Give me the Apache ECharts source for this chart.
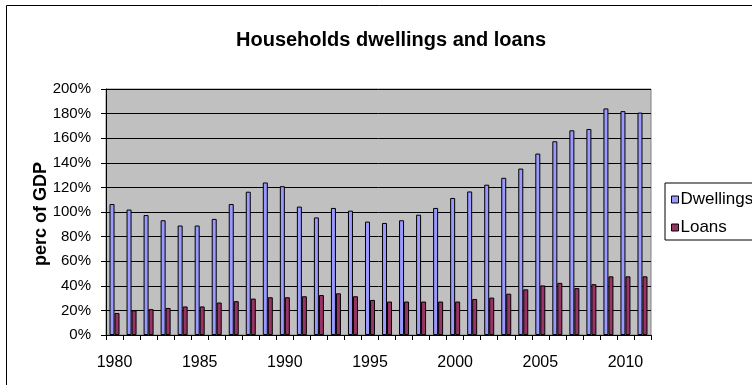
<!DOCTYPE html>
<html>
<head>
<meta charset="utf-8">
<script src="https://cdn.jsdelivr.net/npm/echarts@6/dist/echarts.min.js"></script>
<style>
html,body{margin:0;padding:0;background:#fff;}
#c{width:752px;height:385px;}
</style>
</head>
<body>
<div id="c"></div>
<script>
const years = ['1980','1981','1982','1983','1984','1985','1986','1987','1988','1989','1990','1991','1992','1993','1994','1995','1996','1997','1998','1999','2000','2001','2002','2003','2004','2005','2006','2007','2008','2009','2010','2011'];
const dwellings = [106.5,102,97.5,93.3,89,89,94.4,106.5,116.5,124,121,104.4,95.6,103.3,101.1,92.2,91.1,93.3,97.8,103.3,111.4,116.7,122.2,127.8,135.3,147.5,157.5,166.4,167.5,184.2,182,180.8];
const loans = [17.9,20,21,22,23.2,23.2,26.4,27.5,29.6,30.7,30.7,31.5,32.5,33.9,31.5,28.5,27.2,27.2,27.2,27.2,27.2,29.3,30.4,33.6,37.1,40.3,42.4,38.1,41.3,47.7,47.7,47.7];
const yTicks = [0,20,40,60,80,100,120,140,160,180,200];
const yAxisTitle = 'perc of GDP';

const FONT = 'Liberation Sans, Arial, sans-serif';
const chart = echarts.init(document.getElementById('c'), null, {renderer:'canvas'});
chart.setOption({
  animation:false,
  backgroundColor:'#ffffff',
  textStyle:{fontFamily:FONT},
  title:{
    text:'Households dwellings and loans',
    left:231, top:25,
    textStyle:{fontFamily:FONT, fontSize:20, fontWeight:'bold', color:'#000'}
  },
  graphic:[{
    type:'rect', shape:{x:6.5,y:5.5,width:800,height:400},
    style:{fill:'none', stroke:'#000', lineWidth:1}, silent:true, z:-1
  },{
    type:'text', x:41, y:214, rotation:Math.PI/2, silent:true,
    style:{text:yAxisTitle, fill:'#000', font:'bold 18px Liberation Sans, Arial, sans-serif',
      textAlign:'center', textVerticalAlign:'middle'}
  }],
  legend:{
    orient:'vertical', left:665, top:183,
    padding:[8,20,4,6],
    borderColor:'#000', borderWidth:1, backgroundColor:'#fff',
    itemWidth:7, itemHeight:7, itemGap:11, icon:'rect',
    textStyle:{fontFamily:FONT, fontSize:17, color:'#000', padding:[0,0,0,-3]},
    itemStyle:{borderColor:'#000', borderWidth:1},
    data:['Dwellings','Loans']
  },
  grid:{
    left:106, right:101, top:89, bottom:50,
    show:true, backgroundColor:'#C0C0C0', borderColor:'#808080', borderWidth:1
  },
  xAxis:{
    type:'category', data:years,
    axisLine:{lineStyle:{color:'#000'}},
    axisTick:{show:true, interval:0, length:5, lineStyle:{color:'#000'}},
    axisLabel:{interval:4, fontFamily:FONT, fontSize:16, color:'#000', margin:20}
  },
  yAxis:{
    type:'value', min:0, max:200, interval:20,
    axisLine:{show:true, lineStyle:{color:'#000'}},
    axisTick:{show:true, length:5, lineStyle:{color:'#000'}},
    axisLabel:{fontFamily:FONT, fontSize:15, color:'#000', margin:15,
      formatter:function(v){return yTicks.indexOf(v)>=0 ? v+'%' : '';}},
    splitLine:{show:true, lineStyle:{color:'#000', width:1}}
  },
  series:[
    {name:'Dwellings', type:'bar', data:dwellings, barWidth:5, barGap:'0%',
     itemStyle:{color:'#9999FF', borderColor:'#000', borderWidth:1}},
    {name:'Loans', type:'bar', data:loans, barWidth:5,
     itemStyle:{color:'#993366', borderColor:'#000', borderWidth:1}}
  ]
});
</script>
</body>
</html>
